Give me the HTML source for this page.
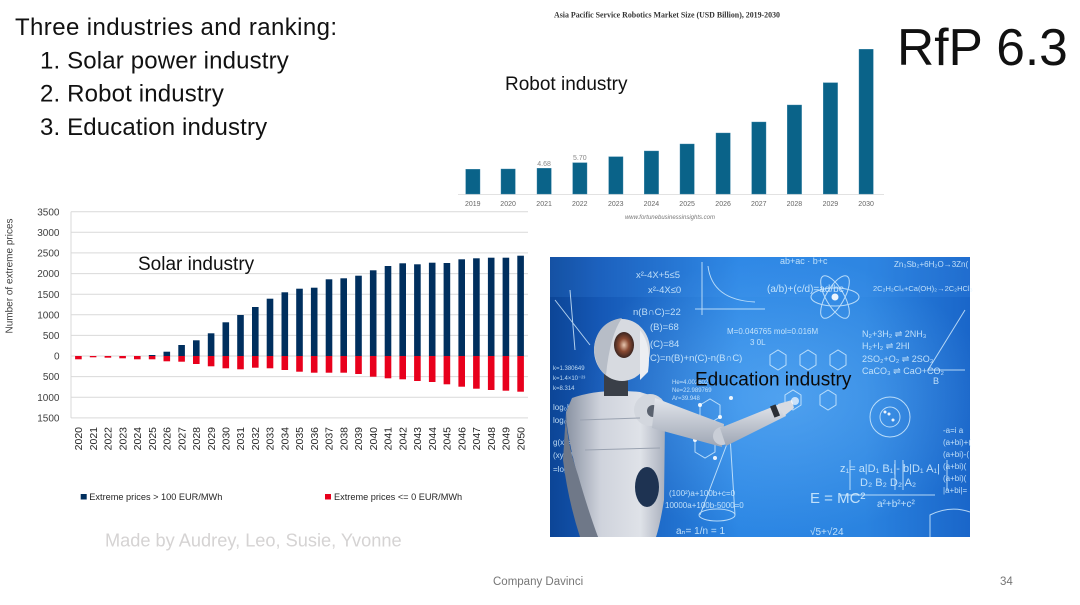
<!DOCTYPE html>
<html>
<head>
<meta charset="utf-8">
<style>
  html, body { margin: 0; padding: 0; background: #ffffff; }
  body { width: 1080px; height: 605px; overflow: hidden; }
  svg { display: block; }
</style>
</head>
<body>
<svg width="1080" height="605" viewBox="0 0 1080 605" xmlns="http://www.w3.org/2000/svg" font-family="'Liberation Sans', Arial, sans-serif">
  <defs>
    <linearGradient id="bgH" x1="0" y1="0" x2="1" y2="0">
      <stop offset="0" stop-color="#0c4596"/>
      <stop offset="0.12" stop-color="#1558b6"/>
      <stop offset="0.45" stop-color="#2b86e4"/>
      <stop offset="0.75" stop-color="#2a83e0"/>
      <stop offset="1" stop-color="#1a66c9"/>
    </linearGradient>
    <radialGradient id="glow" cx="0.55" cy="0.5" r="0.5">
      <stop offset="0" stop-color="#7cc4ff" stop-opacity="0.45"/>
      <stop offset="1" stop-color="#7cc4ff" stop-opacity="0"/>
    </radialGradient>
    <linearGradient id="body" x1="0" y1="0" x2="1" y2="0">
      <stop offset="0" stop-color="#8a93a3"/>
      <stop offset="0.35" stop-color="#cfd3dc"/>
      <stop offset="0.75" stop-color="#dfe2e8"/>
      <stop offset="1" stop-color="#a9b0bd"/>
    </linearGradient>
    <linearGradient id="arm" x1="0" y1="0" x2="0" y2="1">
      <stop offset="0" stop-color="#e3e6ec"/>
      <stop offset="1" stop-color="#9ea6b4"/>
    </linearGradient>
    <radialGradient id="face" cx="0.5" cy="0.5" r="0.5">
      <stop offset="0" stop-color="#e8c7b0"/>
      <stop offset="0.5" stop-color="#8a4a32"/>
      <stop offset="1" stop-color="#3b2520"/>
    </radialGradient>
  </defs>

  <!-- ===== Top-left text ===== -->
  <g fill="#111111" font-size="24">
    <text x="15" y="35" letter-spacing="0.4">Three industries and ranking:</text>
    <text x="40" y="68.3" letter-spacing="0.15">1. Solar power industry</text>
    <text x="40" y="101.7" letter-spacing="0.15">2. Robot industry</text>
    <text x="40" y="135" letter-spacing="0.15">3. Education industry</text>
  </g>

  <!-- RfP 6.3 -->
  <text x="897" y="65" font-size="51.5" fill="#111111">RfP 6.3</text>

  <!-- ===== Robot chart ===== -->
  <text x="667" y="17.5" text-anchor="middle" font-family="'Liberation Serif', 'Times New Roman', serif" font-weight="bold" font-size="7.9" fill="#333333">Asia Pacific Service Robotics Market Size (USD Billion), 2019-2030</text>
  <line x1="458" y1="194.5" x2="884" y2="194.5" stroke="#e2e2e2" stroke-width="1"/>
  <g fill="#0a6389" stroke="#3c86a8" stroke-width="0.4">
    <rect x="465.7" y="169.3" width="14.3" height="24.7"/>
    <rect x="501" y="169" width="14.3" height="25"/>
    <rect x="537" y="168.3" width="14.3" height="25.7"/>
    <rect x="572.7" y="162.7" width="14.3" height="31.3"/>
    <rect x="608.7" y="156.7" width="14.3" height="37.3"/>
    <rect x="644.3" y="151" width="14.3" height="43"/>
    <rect x="680" y="144" width="14.3" height="50"/>
    <rect x="716" y="133" width="14.3" height="61"/>
    <rect x="751.7" y="122" width="14.3" height="72"/>
    <rect x="787.3" y="105" width="14.3" height="89"/>
    <rect x="823.3" y="82.7" width="14.3" height="111.3"/>
    <rect x="859" y="49.3" width="14.3" height="144.7"/>
  </g>
  <g font-size="7" fill="#666666" text-anchor="middle">
    <text x="472.8" y="205.8">2019</text>
    <text x="508.1" y="205.8">2020</text>
    <text x="544.1" y="205.8">2021</text>
    <text x="579.8" y="205.8">2022</text>
    <text x="615.8" y="205.8">2023</text>
    <text x="651.4" y="205.8">2024</text>
    <text x="687.1" y="205.8">2025</text>
    <text x="723.1" y="205.8">2026</text>
    <text x="758.8" y="205.8">2027</text>
    <text x="794.4" y="205.8">2028</text>
    <text x="830.4" y="205.8">2029</text>
    <text x="866.1" y="205.8">2030</text>
    <text x="544.1" y="166" fill="#888888">4.68</text>
    <text x="579.8" y="160.2" fill="#888888">5.70</text>
  </g>
  <text x="670" y="219" text-anchor="middle" font-size="6" font-style="italic" fill="#777777">www.fortunebusinessinsights.com</text>
  <text x="505" y="90" font-size="19" fill="#111111">Robot industry</text>

  <!-- ===== Solar chart ===== -->
  <g stroke="#d9d9d9" stroke-width="1">
    <line x1="71" y1="211.7" x2="528" y2="211.7"/>
    <line x1="71" y1="232.3" x2="528" y2="232.3"/>
    <line x1="71" y1="252.9" x2="528" y2="252.9"/>
    <line x1="71" y1="273.6" x2="528" y2="273.6"/>
    <line x1="71" y1="294.2" x2="528" y2="294.2"/>
    <line x1="71" y1="314.8" x2="528" y2="314.8"/>
    <line x1="71" y1="335.4" x2="528" y2="335.4"/>
    <line x1="71" y1="356" x2="528" y2="356"/>
    <line x1="71" y1="376.6" x2="528" y2="376.6"/>
    <line x1="71" y1="397.3" x2="528" y2="397.3"/>
    <line x1="71" y1="417.9" x2="528" y2="417.9"/>
    <line x1="71" y1="211.7" x2="71" y2="417.9"/>
  </g>
  <g font-size="10" fill="#404040" text-anchor="end">
    <text x="59.5" y="215.3">3500</text>
    <text x="59.5" y="235.9">3000</text>
    <text x="59.5" y="256.5">2500</text>
    <text x="59.5" y="277.2">2000</text>
    <text x="59.5" y="297.8">1500</text>
    <text x="59.5" y="318.4">1000</text>
    <text x="59.5" y="339">500</text>
    <text x="59.5" y="359.6">0</text>
    <text x="59.5" y="380.2">500</text>
    <text x="59.5" y="400.9">1000</text>
    <text x="59.5" y="421.5">1500</text>
  </g>
  <text transform="translate(12.5,276) rotate(-90)" text-anchor="middle" font-size="10" fill="#404040">Number of extreme prices</text>

  <!-- positive bars -->
  <g fill="#002f5e">
    <rect x="148.8" y="355" width="6.6" height="1"/>
    <rect x="163.5" y="351.7" width="6.6" height="4.3"/>
    <rect x="178.3" y="345" width="6.6" height="11"/>
    <rect x="193" y="340.3" width="6.6" height="15.7"/>
    <rect x="207.8" y="333.3" width="6.6" height="22.7"/>
    <rect x="222.5" y="322.3" width="6.6" height="33.7"/>
    <rect x="237.2" y="315" width="6.6" height="41"/>
    <rect x="252" y="307" width="6.6" height="49"/>
    <rect x="266.7" y="298.7" width="6.6" height="57.3"/>
    <rect x="281.5" y="292.3" width="6.6" height="63.7"/>
    <rect x="296.2" y="288.7" width="6.6" height="67.3"/>
    <rect x="310.9" y="287.7" width="6.6" height="68.3"/>
    <rect x="325.7" y="279.3" width="6.6" height="76.7"/>
    <rect x="340.4" y="278.3" width="6.6" height="77.7"/>
    <rect x="355.2" y="275.7" width="6.6" height="80.3"/>
    <rect x="369.9" y="270.3" width="6.6" height="85.7"/>
    <rect x="384.7" y="266" width="6.6" height="90"/>
    <rect x="399.4" y="263.3" width="6.6" height="92.7"/>
    <rect x="414.1" y="264.3" width="6.6" height="91.7"/>
    <rect x="428.9" y="262.7" width="6.6" height="93.3"/>
    <rect x="443.6" y="263" width="6.6" height="93"/>
    <rect x="458.4" y="259.3" width="6.6" height="96.7"/>
    <rect x="473.1" y="258.3" width="6.6" height="97.7"/>
    <rect x="487.9" y="257.7" width="6.6" height="98.3"/>
    <rect x="502.6" y="257.7" width="6.6" height="98.3"/>
    <rect x="517.3" y="255.7" width="6.6" height="100.3"/>
  </g>
  <!-- negative bars -->
  <g fill="#e8001c">
    <rect x="75.1" y="356" width="6.6" height="3.3"/>
    <rect x="89.8" y="356" width="6.6" height="1.3"/>
    <rect x="104.6" y="356" width="6.6" height="1.7"/>
    <rect x="119.3" y="356" width="6.6" height="2.3"/>
    <rect x="134" y="356" width="6.6" height="3.3"/>
    <rect x="148.8" y="356" width="6.6" height="3.3"/>
    <rect x="163.5" y="356" width="6.6" height="5.3"/>
    <rect x="178.3" y="356" width="6.6" height="5.7"/>
    <rect x="193" y="356" width="6.6" height="8"/>
    <rect x="207.8" y="356" width="6.6" height="10.3"/>
    <rect x="222.5" y="356" width="6.6" height="12.3"/>
    <rect x="237.2" y="356" width="6.6" height="13.3"/>
    <rect x="252" y="356" width="6.6" height="11.7"/>
    <rect x="266.7" y="356" width="6.6" height="12.3"/>
    <rect x="281.5" y="356" width="6.6" height="14"/>
    <rect x="296.2" y="356" width="6.6" height="15.7"/>
    <rect x="310.9" y="356" width="6.6" height="16.7"/>
    <rect x="325.7" y="356" width="6.6" height="16.7"/>
    <rect x="340.4" y="356" width="6.6" height="16.7"/>
    <rect x="355.2" y="356" width="6.6" height="18"/>
    <rect x="369.9" y="356" width="6.6" height="20.7"/>
    <rect x="384.7" y="356" width="6.6" height="22.3"/>
    <rect x="399.4" y="356" width="6.6" height="23.3"/>
    <rect x="414.1" y="356" width="6.6" height="25"/>
    <rect x="428.9" y="356" width="6.6" height="26"/>
    <rect x="443.6" y="356" width="6.6" height="28.3"/>
    <rect x="458.4" y="356" width="6.6" height="30.7"/>
    <rect x="473.1" y="356" width="6.6" height="32.7"/>
    <rect x="487.9" y="356" width="6.6" height="34"/>
    <rect x="502.6" y="356" width="6.6" height="34.7"/>
    <rect x="517.3" y="356" width="6.6" height="35.7"/>
  </g>

  <!-- x labels rotated -->
  <g font-size="10.5" fill="#262626" text-anchor="end">
    <text transform="translate(82.1,427) rotate(-90)">2020</text>
    <text transform="translate(96.8,427) rotate(-90)">2021</text>
    <text transform="translate(111.6,427) rotate(-90)">2022</text>
    <text transform="translate(126.3,427) rotate(-90)">2023</text>
    <text transform="translate(141.1,427) rotate(-90)">2024</text>
    <text transform="translate(155.8,427) rotate(-90)">2025</text>
    <text transform="translate(170.5,427) rotate(-90)">2026</text>
    <text transform="translate(185.3,427) rotate(-90)">2027</text>
    <text transform="translate(200,427) rotate(-90)">2028</text>
    <text transform="translate(214.8,427) rotate(-90)">2029</text>
    <text transform="translate(229.5,427) rotate(-90)">2030</text>
    <text transform="translate(244.2,427) rotate(-90)">2031</text>
    <text transform="translate(259,427) rotate(-90)">2032</text>
    <text transform="translate(273.7,427) rotate(-90)">2033</text>
    <text transform="translate(288.5,427) rotate(-90)">2034</text>
    <text transform="translate(303.2,427) rotate(-90)">2035</text>
    <text transform="translate(317.9,427) rotate(-90)">2036</text>
    <text transform="translate(332.7,427) rotate(-90)">2037</text>
    <text transform="translate(347.4,427) rotate(-90)">2038</text>
    <text transform="translate(362.2,427) rotate(-90)">2039</text>
    <text transform="translate(376.9,427) rotate(-90)">2040</text>
    <text transform="translate(391.7,427) rotate(-90)">2041</text>
    <text transform="translate(406.4,427) rotate(-90)">2042</text>
    <text transform="translate(421.1,427) rotate(-90)">2043</text>
    <text transform="translate(435.9,427) rotate(-90)">2044</text>
    <text transform="translate(450.6,427) rotate(-90)">2045</text>
    <text transform="translate(465.4,427) rotate(-90)">2046</text>
    <text transform="translate(480.1,427) rotate(-90)">2047</text>
    <text transform="translate(494.9,427) rotate(-90)">2048</text>
    <text transform="translate(509.6,427) rotate(-90)">2049</text>
    <text transform="translate(524.3,427) rotate(-90)">2050</text>
  </g>

  <text x="138" y="270" font-size="19" fill="#111111">Solar industry</text>

  <!-- legend -->
  <rect x="80.7" y="494" width="6" height="5.5" fill="#002f5e"/>
  <text x="89.3" y="500" font-size="9.2" fill="#262626">Extreme prices &gt; 100 EUR/MWh</text>
  <rect x="325" y="494" width="6" height="5.5" fill="#e8001c"/>
  <text x="334" y="500" font-size="9.2" fill="#262626">Extreme prices &lt;= 0 EUR/MWh</text>

  <text x="105" y="546.7" font-size="18.2" fill="#d5d3d3">Made by Audrey, Leo, Susie, Yvonne</text>

  <!-- footer -->
  <text x="493" y="585" font-size="11.5" fill="#767676">Company Davinci</text>
  <text x="1000" y="585" font-size="11.5" fill="#767676">34</text>

  <!-- ===== Education image ===== -->
  <g>
    <rect x="550" y="257" width="420" height="280" fill="url(#bgH)"/>
    <rect x="550" y="257" width="420" height="280" fill="url(#glow)"/>
    <rect x="550" y="257" width="420" height="40" fill="#4a9cf0" opacity="0.15"/>

    <!-- formulas & drawings -->
    <g fill="#d9f0ff" opacity="0.85" font-size="9.5">
      <text x="636" y="278">x²-4X+5≤5</text>
      <text x="648" y="293">x²-4X≤0</text>
      <text x="633" y="315">n(B∩C)=22</text>
      <text x="650" y="330">(B)=68</text>
      <text x="650" y="347">(C)=84</text>
      <text x="650" y="361">C)=n(B)+n(C)-n(B∩C)</text>
      <text x="727" y="334" font-size="8">M=0.046765 mol=0.016M</text>
      <text x="750" y="345" font-size="8">3 0L</text>
      <text x="780" y="264" font-size="9">ab+ac · b+c</text>
      <text x="767" y="292" font-size="10">(a/b)+(c/d)=ad/bc</text>
      <text x="894" y="267" font-size="8">Zn₃Sb₂+6H₂O→3Zn(</text>
      <text x="873" y="291" font-size="7.5">2C₂H₂Cl₄+Ca(OH)₂→2C₂HCl₃</text>
      <text x="862" y="337" font-size="9">N₂+3H₂ ⇌ 2NH₃</text>
      <text x="862" y="349" font-size="9">H₂+I₂ ⇌ 2HI</text>
      <text x="862" y="362" font-size="9">2SO₂+O₂ ⇌ 2SO₃</text>
      <text x="862" y="374" font-size="9">CaCO₃ ⇌ CaO+CO₂</text>
      <text x="933" y="384" font-size="9">B</text>
      <text x="669" y="496" font-size="8">(100²)a+100b+c=0</text>
      <text x="665" y="508" font-size="8">10000a+100b-5000=0</text>
      <text x="810" y="503" font-size="15">E = MC²</text>
      <text x="840" y="472" font-size="11">z₁= a|D₁ B₁|- b|D₁ A₁|</text>
      <text x="860" y="486" font-size="11">D₂ B₂    D₂ A₂</text>
      <text x="877" y="507" font-size="10">a²+b²+c²</text>
      <text x="943" y="433" font-size="8">-a=i a</text>
      <text x="943" y="445" font-size="8">(a+bi)+(</text>
      <text x="943" y="457" font-size="8">(a+bi)-(</text>
      <text x="943" y="469" font-size="8">(a+bi)(</text>
      <text x="943" y="481" font-size="8">(a+bi)(</text>
      <text x="943" y="493" font-size="8">|a+bi|=</text>
      <text x="553" y="410" font-size="8">log₀b=</text>
      <text x="553" y="423" font-size="8">log₀x</text>
      <text x="553" y="445" font-size="8">g(x)=lo</text>
      <text x="553" y="458" font-size="8">(xy)=log</text>
      <text x="553" y="472" font-size="8">=log₀x</text>
      <text x="553" y="370" font-size="6">k=1.380649</text>
      <text x="553" y="380" font-size="6">k=1.4×10⁻²³</text>
      <text x="553" y="390" font-size="6">k=8.314</text>
      <text x="672" y="384" font-size="6">He=4.002602</text>
      <text x="672" y="392" font-size="6">Ne=22.989769</text>
      <text x="672" y="400" font-size="6">Ar=39.948</text>
      <text x="676" y="534" font-size="10">aₙ= 1/n = 1</text>
      <text x="810" y="535" font-size="10">√5+√24</text>
    </g>
    <g stroke="#d9f0ff" stroke-width="1" fill="none" opacity="0.8">
      <!-- graph -->
      <path d="M702 262 L702 315 M695 309 L765 309"/>
      <path d="M708 266 Q712 300 755 302"/>
      <!-- atom -->
      <ellipse cx="835" cy="297" rx="24" ry="9"/>
      <ellipse cx="835" cy="297" rx="24" ry="9" transform="rotate(60 835 297)"/>
      <ellipse cx="835" cy="297" rx="24" ry="9" transform="rotate(-60 835 297)"/>
      <!-- circle with dots -->
      <circle cx="890" cy="417" r="20"/>
      <circle cx="890" cy="417" r="10"/>
      <!-- triangle -->
      <path d="M965 310 L928 370 L965 370"/>
      <!-- cone -->
      <path d="M700 515 L730 436 L735 515"/>
      <ellipse cx="717" cy="515" rx="18" ry="6"/>
      <!-- cylinder -->
      <path d="M930 537 L930 515 Q950 505 970 512"/>
      <!-- molecule -->
      <path d="M770 355 l8 -5 l8 5 l0 10 l-8 5 l-8 -5 z"/>
      <path d="M800 355 l8 -5 l8 5 l0 10 l-8 5 l-8 -5 z"/>
      <path d="M830 355 l8 -5 l8 5 l0 10 l-8 5 l-8 -5 z"/>
      <path d="M785 395 l8 -5 l8 5 l0 10 l-8 5 l-8 -5 z"/>
      <path d="M820 395 l8 -5 l8 5 l0 10 l-8 5 l-8 -5 z"/>
      <path d="M700 405 l10 -6 l10 6 l0 12 l-10 6 l-10 -6 z"/>
      <path d="M695 440 l10 -6 l10 6 l0 12 l-10 6 l-10 -6 z"/>
      <!-- left graph -->
      <path d="M555 300 L590 345 M570 290 L575 350"/>
      <!-- matrix bars -->
      <path d="M850 460 L850 490 M895 460 L895 490 M903 460 L903 490 M947 460 L947 490 M840 495 L935 495"/>
    </g>
    <g fill="#ffffff" opacity="0.9">
      <circle cx="700" cy="405" r="2"/><circle cx="720" cy="417" r="2"/>
      <circle cx="695" cy="440" r="2"/><circle cx="715" cy="458" r="2"/>
      <circle cx="731" cy="398" r="2"/><circle cx="885" cy="297" r="0"/>
      <circle cx="835" cy="297" r="3.5"/>
      <circle cx="885" cy="412" r="1.5"/><circle cx="893" cy="420" r="1.5"/><circle cx="889" cy="414" r="1.5"/>
    </g>

    <!-- robot -->
    <g>
      <!-- torso -->
      <path d="M572 398 Q600 388 640 392 Q664 398 665 420 L664 500 Q660 525 656 537 L598 537 Q585 515 576 470 Q566 430 566 412 Z" fill="url(#body)"/>
      <path d="M566 412 Q566 440 578 475 Q588 510 598 537 L580 537 Q568 500 563 460 Z" fill="#6f7888"/>
      <!-- neck -->
      <rect x="604" y="370" width="24" height="26" fill="#3a3f48"/>
      <!-- head -->
      <ellipse cx="622" cy="350" rx="28" ry="31" fill="#d7dae0"/>
      <path d="M594 350 Q596 322 622 318 Q610 335 606 375 Q596 368 594 350 Z" fill="#b7bdc7"/>
      <ellipse cx="624" cy="345" rx="10" ry="13" fill="url(#face)"/>
      <path d="M640 330 Q652 345 648 372 L640 380 Z" fill="#eceef2"/>
      <!-- shoulder joint -->
      <circle cx="650" cy="410" r="16" fill="#d3d7de"/>
      <circle cx="653" cy="411" r="6" fill="#5a626f"/>
      <!-- upper arm -->
      <path d="M655 398 L724 424 L722 447 L652 428 Z" fill="url(#arm)"/>
      <!-- elbow -->
      <circle cx="722" cy="436" r="9" fill="#c9ced7"/>
      <!-- forearm -->
      <path d="M720 428 L782 403 L786 416 L726 446 Z" fill="url(#arm)"/>
      <!-- wrist & hand -->
      <rect x="772" y="405" width="6" height="12" fill="#2b2f36" transform="rotate(-22 775 411)"/>
      <path d="M778 404 L792 400 L794 408 L784 416 Z" fill="#d8dbe2"/>
      <circle cx="795" cy="401" r="4" fill="#ffffff" opacity="0.7"/>
      <!-- belly -->
      <ellipse cx="647" cy="487" rx="12" ry="20" fill="#1e3352"/>
      <!-- chest lines -->
      <path d="M580 420 L640 418 M585 450 L660 448" stroke="#9aa2b0" stroke-width="1" fill="none"/>
    </g>

    <text x="695" y="385.7" font-size="19" fill="#0a0a0a">Education industry</text>
  </g>
</svg>
</body>
</html>
